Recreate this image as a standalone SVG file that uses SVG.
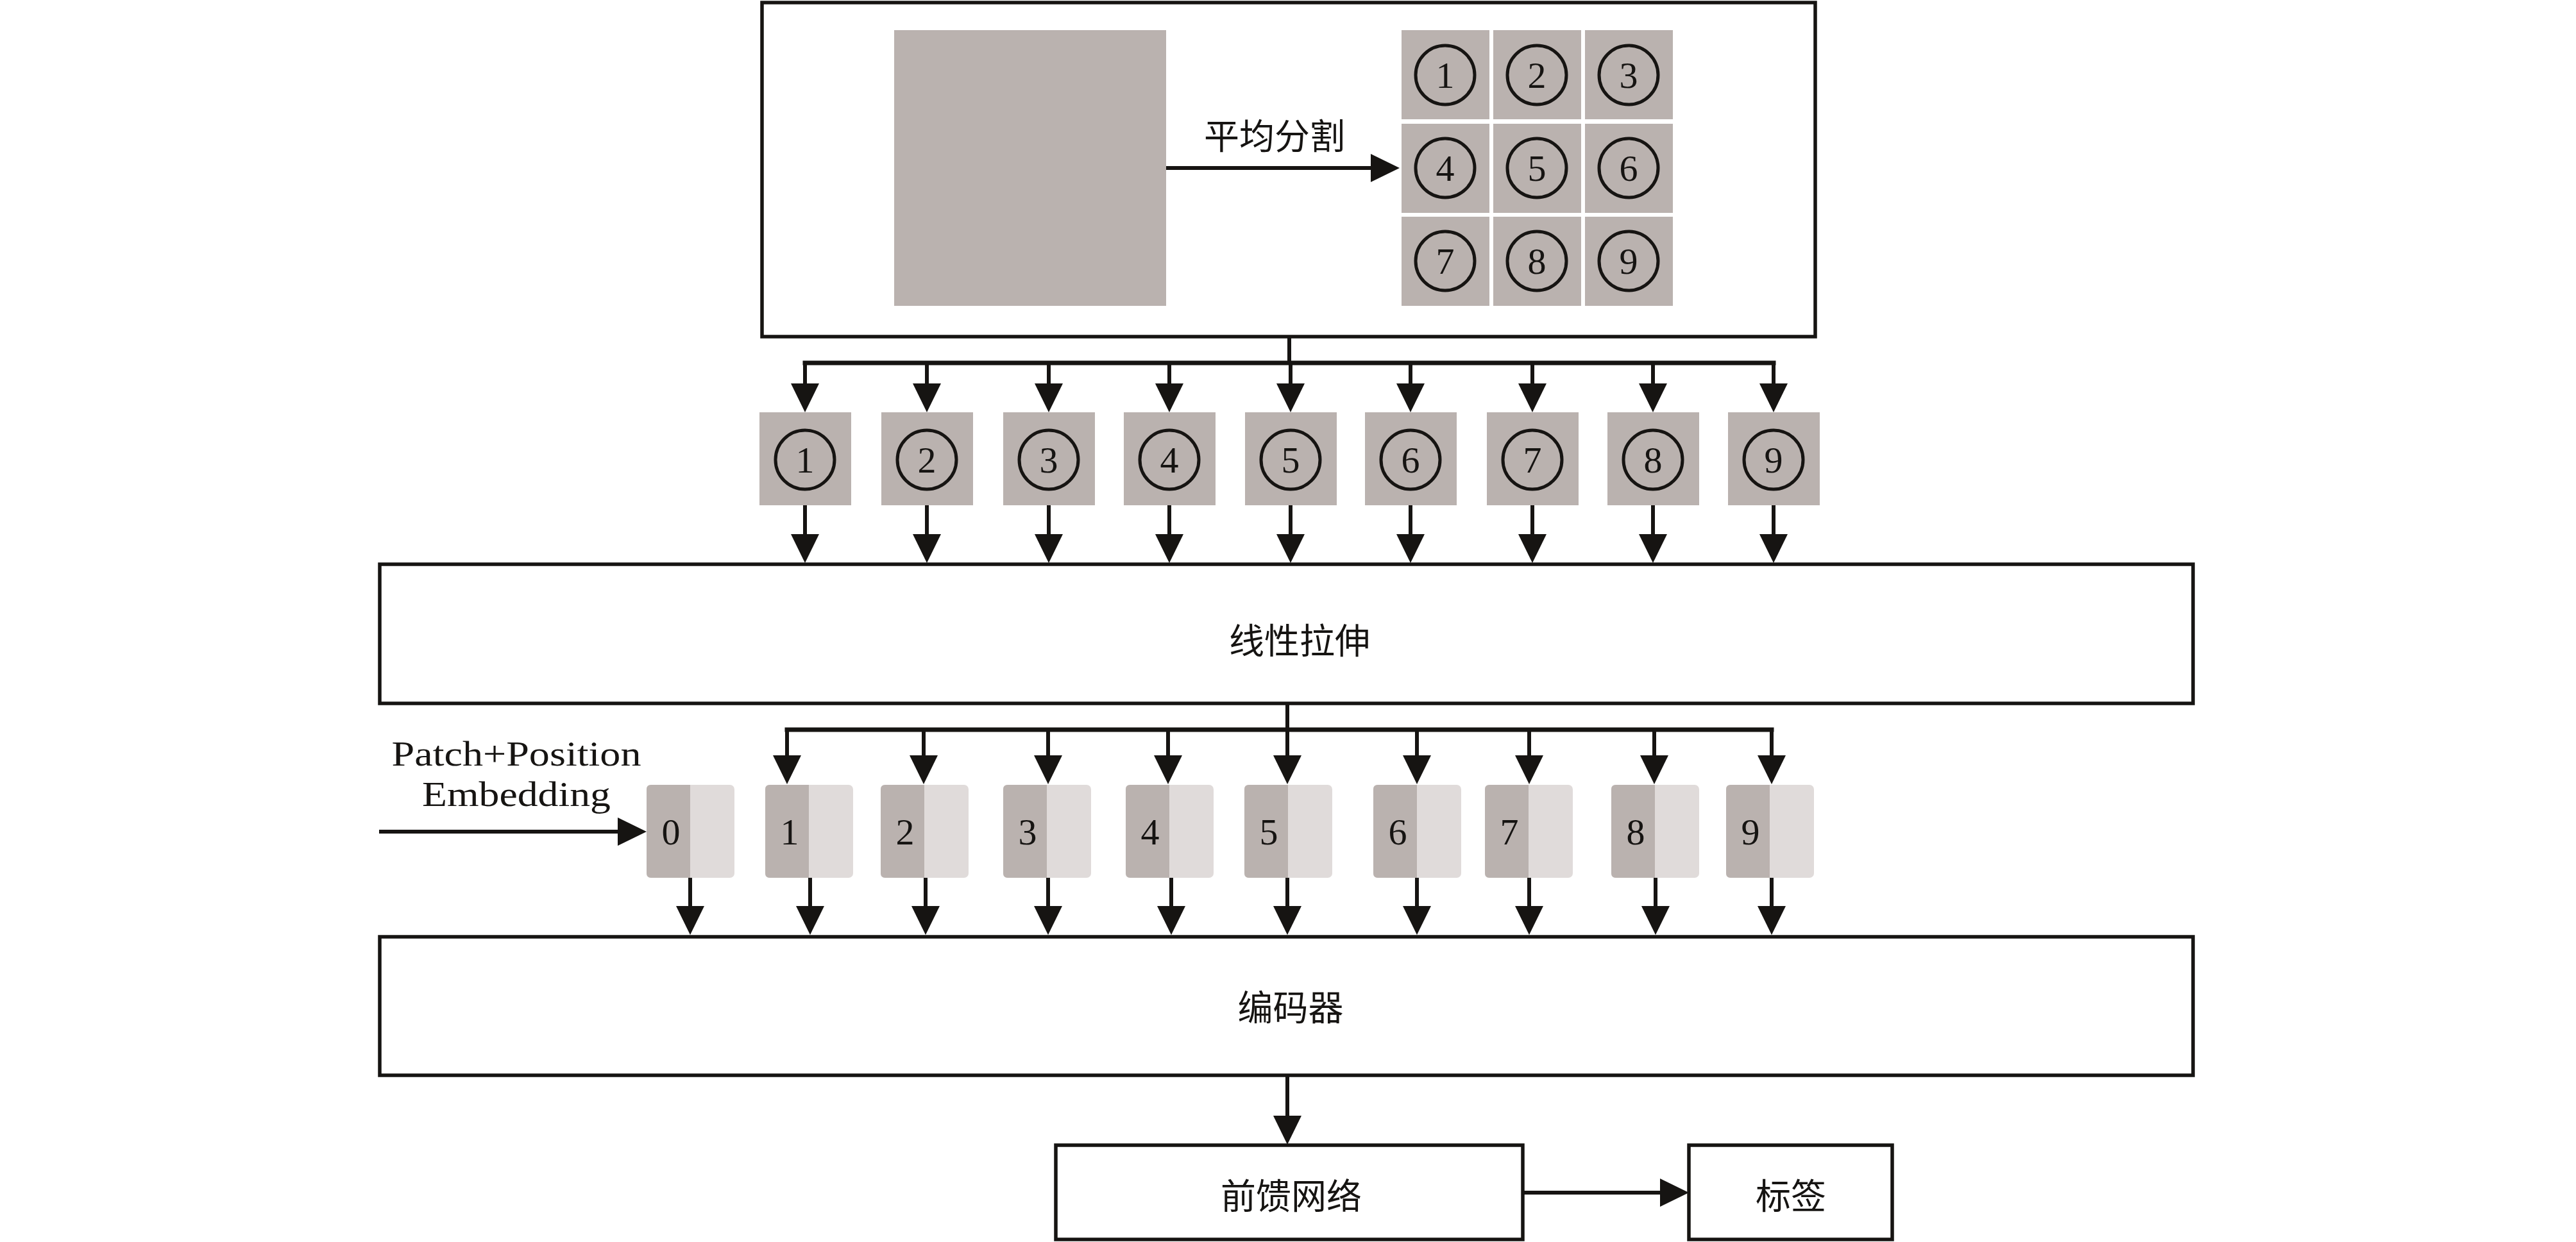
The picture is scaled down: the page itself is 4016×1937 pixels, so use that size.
<svg xmlns="http://www.w3.org/2000/svg" width="4016" height="1937" viewBox="0 0 4016 1937">
<style>
.box{fill:#ffffff;stroke:#161412;stroke-width:5.5}
.gray{fill:#bab2af}
.light{fill:#e0dbda}
.circ{fill:none;stroke:#161412;stroke-width:5}
.dig{font-family:"Liberation Serif","Times New Roman",serif;font-size:58px;fill:#161412;text-anchor:middle}
.cjk{font-family:"Noto Sans CJK SC","Noto Sans CJK JP",sans-serif;font-size:55px;fill:#161412;text-anchor:middle;dominant-baseline:central}
.en{font-family:"Liberation Serif","Times New Roman",serif;font-size:54px;fill:#161412;text-anchor:middle}
.ln{fill:none;stroke:#161412;stroke-width:6}
.bus{fill:none;stroke:#161412;stroke-width:7;stroke-linecap:square}
.arr{fill:none;stroke:#161412;stroke-width:6;marker-end:url(#ah)}
</style>
<defs>
<marker id="ah" markerUnits="userSpaceOnUse" markerWidth="45" markerHeight="44" refX="35" refY="22" orient="auto">
<path d="M0,0 L45,22 L0,44 Z" fill="#161412"/>
</marker>
</defs>
<rect width="4016" height="1937" fill="#ffffff"/>

<g id="split-box">
<rect class="box" x="1188" y="4" width="1642" height="521"/>
<rect class="gray" x="1394" y="47" width="424" height="430"/>
<text class="cjk" x="1987" y="208">平均分割</text>
<g id="grid">
<rect class="gray" x="2185" y="47" width="137" height="139"/>
<rect class="gray" x="2328" y="47" width="137" height="139"/>
<rect class="gray" x="2471" y="47" width="137" height="139"/>
<rect class="gray" x="2185" y="193" width="137" height="139"/>
<rect class="gray" x="2328" y="193" width="137" height="139"/>
<rect class="gray" x="2471" y="193" width="137" height="139"/>
<rect class="gray" x="2185" y="338" width="137" height="139"/>
<rect class="gray" x="2328" y="338" width="137" height="139"/>
<rect class="gray" x="2471" y="338" width="137" height="139"/>
<circle class="circ" cx="2253" cy="117" r="46"/>
<circle class="circ" cx="2396" cy="117" r="46"/>
<circle class="circ" cx="2539" cy="117" r="46"/>
<circle class="circ" cx="2253" cy="262" r="46"/>
<circle class="circ" cx="2396" cy="262" r="46"/>
<circle class="circ" cx="2539" cy="262" r="46"/>
<circle class="circ" cx="2253" cy="407" r="46"/>
<circle class="circ" cx="2396" cy="407" r="46"/>
<circle class="circ" cx="2539" cy="407" r="46"/>
<text class="dig" x="2253" y="137">1</text>
<text class="dig" x="2396" y="137">2</text>
<text class="dig" x="2539" y="137">3</text>
<text class="dig" x="2253" y="282">4</text>
<text class="dig" x="2396" y="282">5</text>
<text class="dig" x="2539" y="282">6</text>
<text class="dig" x="2253" y="427">7</text>
<text class="dig" x="2396" y="427">8</text>
<text class="dig" x="2539" y="427">9</text>
</g>
</g>

<g id="patch-1"><rect class="gray" x="1184" y="643" width="143" height="145"/><circle class="circ" cx="1255" cy="717" r="46"/><text class="dig" x="1255" y="737">1</text></g>
<g id="patch-2"><rect class="gray" x="1374" y="643" width="143" height="145"/><circle class="circ" cx="1445" cy="717" r="46"/><text class="dig" x="1445" y="737">2</text></g>
<g id="patch-3"><rect class="gray" x="1564" y="643" width="143" height="145"/><circle class="circ" cx="1635" cy="717" r="46"/><text class="dig" x="1635" y="737">3</text></g>
<g id="patch-4"><rect class="gray" x="1752" y="643" width="143" height="145"/><circle class="circ" cx="1823" cy="717" r="46"/><text class="dig" x="1823" y="737">4</text></g>
<g id="patch-5"><rect class="gray" x="1941" y="643" width="143" height="145"/><circle class="circ" cx="2012" cy="717" r="46"/><text class="dig" x="2012" y="737">5</text></g>
<g id="patch-6"><rect class="gray" x="2128" y="643" width="143" height="145"/><circle class="circ" cx="2199" cy="717" r="46"/><text class="dig" x="2199" y="737">6</text></g>
<g id="patch-7"><rect class="gray" x="2318" y="643" width="143" height="145"/><circle class="circ" cx="2389" cy="717" r="46"/><text class="dig" x="2389" y="737">7</text></g>
<g id="patch-8"><rect class="gray" x="2506" y="643" width="143" height="145"/><circle class="circ" cx="2577" cy="717" r="46"/><text class="dig" x="2577" y="737">8</text></g>
<g id="patch-9"><rect class="gray" x="2694" y="643" width="143" height="145"/><circle class="circ" cx="2765" cy="717" r="46"/><text class="dig" x="2765" y="737">9</text></g>

<g id="linear"><rect class="box" x="592" y="880" width="2827" height="217"/><text class="cjk" x="2026" y="995">线性拉伸</text></g>

<g id="embed-label">
<text class="en" x="805" y="1194" textLength="389" lengthAdjust="spacingAndGlyphs">Patch+Position</text>
<text class="en" x="805" y="1257" textLength="294" lengthAdjust="spacingAndGlyphs">Embedding</text>
</g>

<g id="token-0"><rect class="light" x="1008" y="1224" width="137" height="145" rx="7"/><path class="gray" d="M1015,1224 H1076 V1369 H1015 Q1008,1369 1008,1362 V1231 Q1008,1224 1015,1224 Z"/><text class="dig" x="1046" y="1317">0</text></g>
<g id="token-1"><rect class="light" x="1193" y="1224" width="137" height="145" rx="7"/><path class="gray" d="M1200,1224 H1261 V1369 H1200 Q1193,1369 1193,1362 V1231 Q1193,1224 1200,1224 Z"/><text class="dig" x="1231" y="1317">1</text></g>
<g id="token-2"><rect class="light" x="1373" y="1224" width="137" height="145" rx="7"/><path class="gray" d="M1380,1224 H1441 V1369 H1380 Q1373,1369 1373,1362 V1231 Q1373,1224 1380,1224 Z"/><text class="dig" x="1411" y="1317">2</text></g>
<g id="token-3"><rect class="light" x="1564" y="1224" width="137" height="145" rx="7"/><path class="gray" d="M1571,1224 H1632 V1369 H1571 Q1564,1369 1564,1362 V1231 Q1564,1224 1571,1224 Z"/><text class="dig" x="1602" y="1317">3</text></g>
<g id="token-4"><rect class="light" x="1755" y="1224" width="137" height="145" rx="7"/><path class="gray" d="M1762,1224 H1823 V1369 H1762 Q1755,1369 1755,1362 V1231 Q1755,1224 1762,1224 Z"/><text class="dig" x="1793" y="1317">4</text></g>
<g id="token-5"><rect class="light" x="1940" y="1224" width="137" height="145" rx="7"/><path class="gray" d="M1947,1224 H2008 V1369 H1947 Q1940,1369 1940,1362 V1231 Q1940,1224 1947,1224 Z"/><text class="dig" x="1978" y="1317">5</text></g>
<g id="token-6"><rect class="light" x="2141" y="1224" width="137" height="145" rx="7"/><path class="gray" d="M2148,1224 H2209 V1369 H2148 Q2141,1369 2141,1362 V1231 Q2141,1224 2148,1224 Z"/><text class="dig" x="2179" y="1317">6</text></g>
<g id="token-7"><rect class="light" x="2315" y="1224" width="137" height="145" rx="7"/><path class="gray" d="M2322,1224 H2383 V1369 H2322 Q2315,1369 2315,1362 V1231 Q2315,1224 2322,1224 Z"/><text class="dig" x="2353" y="1317">7</text></g>
<g id="token-8"><rect class="light" x="2512" y="1224" width="137" height="145" rx="7"/><path class="gray" d="M2519,1224 H2580 V1369 H2519 Q2512,1369 2512,1362 V1231 Q2512,1224 2519,1224 Z"/><text class="dig" x="2550" y="1317">8</text></g>
<g id="token-9"><rect class="light" x="2691" y="1224" width="137" height="145" rx="7"/><path class="gray" d="M2698,1224 H2759 V1369 H2698 Q2691,1369 2691,1362 V1231 Q2691,1224 2698,1224 Z"/><text class="dig" x="2729" y="1317">9</text></g>

<g id="encoder"><rect class="box" x="592" y="1461" width="2827" height="216"/><text class="cjk" x="2012" y="1567">编码器</text></g>
<g id="ffn"><rect class="box" x="1646" y="1786" width="728" height="147"/><text class="cjk" x="2013" y="1861">前馈网络</text></g>
<g id="label"><rect class="box" x="2633" y="1786" width="317" height="147"/><text class="cjk" x="2792" y="1861">标签</text></g>

<g id="connectors">
<path class="arr" d="M1818,262 H2172"/>
<path class="ln" d="M2010,525 V566"/>
<path class="bus" d="M1255,566 H2765"/>
<path class="arr" d="M1255,566 V633"/>
<path class="arr" d="M1445,566 V633"/>
<path class="arr" d="M1635,566 V633"/>
<path class="arr" d="M1823,566 V633"/>
<path class="arr" d="M2012,566 V633"/>
<path class="arr" d="M2199,566 V633"/>
<path class="arr" d="M2389,566 V633"/>
<path class="arr" d="M2577,566 V633"/>
<path class="arr" d="M2765,566 V633"/>
<path class="arr" d="M1255,788 V868"/>
<path class="arr" d="M1445,788 V868"/>
<path class="arr" d="M1635,788 V868"/>
<path class="arr" d="M1823,788 V868"/>
<path class="arr" d="M2012,788 V868"/>
<path class="arr" d="M2199,788 V868"/>
<path class="arr" d="M2389,788 V868"/>
<path class="arr" d="M2577,788 V868"/>
<path class="arr" d="M2765,788 V868"/>
<path class="ln" d="M2007,1097 V1138"/>
<path class="bus" d="M1227,1138 H2762"/>
<path class="arr" d="M1227,1138 V1213"/>
<path class="arr" d="M1440,1138 V1213"/>
<path class="arr" d="M1634,1138 V1213"/>
<path class="arr" d="M1821,1138 V1213"/>
<path class="arr" d="M2007,1138 V1213"/>
<path class="arr" d="M2209,1138 V1213"/>
<path class="arr" d="M2384,1138 V1213"/>
<path class="arr" d="M2579,1138 V1213"/>
<path class="arr" d="M2762,1138 V1213"/>
<path class="arr" d="M591,1297 H998"/>
<path class="arr" d="M1076,1369 V1448"/>
<path class="arr" d="M1263,1369 V1448"/>
<path class="arr" d="M1443,1369 V1448"/>
<path class="arr" d="M1634,1369 V1448"/>
<path class="arr" d="M1826,1369 V1448"/>
<path class="arr" d="M2007,1369 V1448"/>
<path class="arr" d="M2209,1369 V1448"/>
<path class="arr" d="M2384,1369 V1448"/>
<path class="arr" d="M2581,1369 V1448"/>
<path class="arr" d="M2762,1369 V1448"/>
<path class="arr" d="M2007,1678 V1775"/>
<path class="arr" d="M2374,1860 H2623"/>
</g>
</svg>
